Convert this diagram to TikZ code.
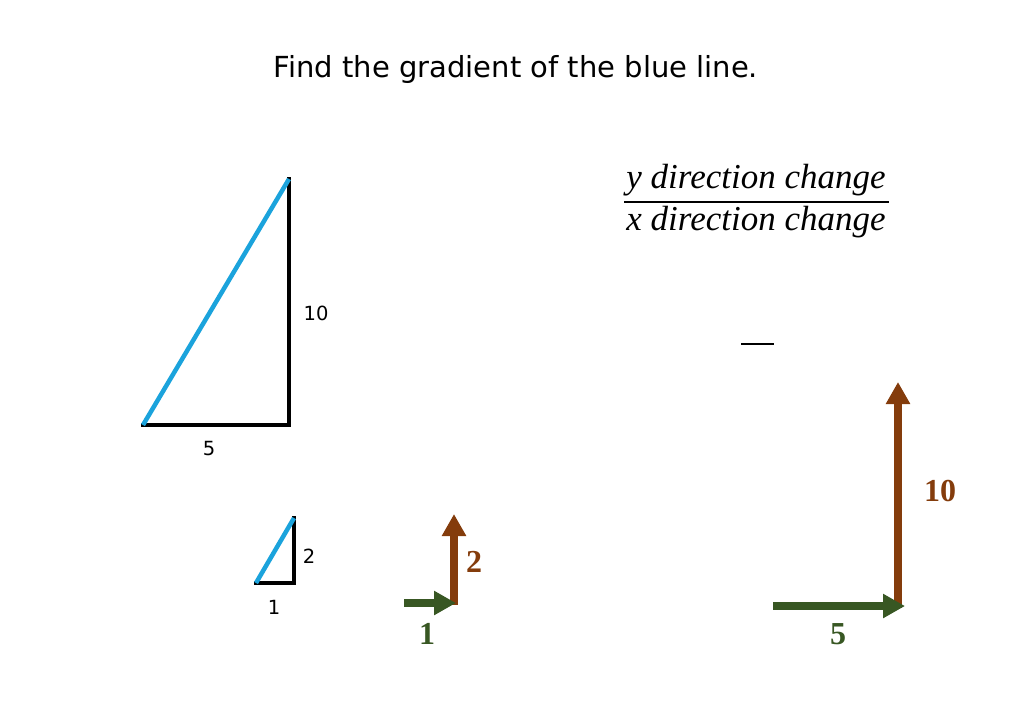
\documentclass[tikz,border=0pt]{standalone}
\usepackage{fontspec}
\setmainfont{Liberation Serif}
\newfontfamily\titlefont{DejaVu Sans}
\usetikzlibrary{arrows.meta}
\definecolor{lineblue}{RGB}{27,163,220}
\definecolor{arrowbrown}{RGB}{132,60,12}
\definecolor{arrowgreen}{RGB}{56,87,35}
\tikzset{
  side/.style={line width=4.5pt, line cap=rect},
  vec/.style={line width=8pt, -{Triangle[width=23pt,length=22pt]}},
  sidelabel/.style={font=\titlefont\fontsize{19.5}{22}\selectfont},
  veclabel/.style={font=\bfseries\fontsize{32}{34}\selectfont},
  fraclabel/.style={font=\itshape\fontsize{35}{38}\selectfont}
}
\begin{document}
\begin{tikzpicture}[x=1pt,y=-1pt]
\useasboundingbox (0,0) rectangle (1024,709);
\node[font=\titlefont\fontsize{29}{32}\selectfont] (T) at (516,69) {Find the gradient of the blue line.};

\node[fraclabel] (N) at (756,180) {y direction change};
\node[fraclabel] (M) at (756,222) {x direction change};
\coordinate (bl) at (624,202);
\coordinate (br) at (889,202);
\draw[line width=2pt] (bl) -- (br);
\draw[line width=2pt] (741,344) -- (774,344);

% big triangle
\coordinate (A) at (143,425);
\coordinate (B) at (289,425);
\coordinate (C) at (289,179);
\draw[side] (A) -- (B) -- (C);
\draw[lineblue, line width=4.5pt] (A) -- (C);
\node[sidelabel] (l10) at (316,313) {10};
\node[sidelabel] (l5) at (209,449) {5};

% small triangle
\coordinate (D) at (256,583);
\coordinate (E) at (294,583);
\coordinate (G) at (294,518);
\draw[side] (D) -- (E) -- (G);
\draw[lineblue, line width=4.5pt] (D) -- (G);
\node[sidelabel] (s2) at (309,556) {2};
\node[sidelabel] (s1) at (274,607) {1};

% small arrows
\coordinate (P) at (404,603);
\coordinate (Q) at (456,603);
\coordinate (R) at (454,605);
\coordinate (S) at (454,514);
\draw[vec, arrowbrown] (R) -- (S);
\draw[vec, arrowgreen] (P) -- (Q);
\node[veclabel, text=arrowbrown] (v2) at (474,562) {2};
\node[veclabel, text=arrowgreen] (v1) at (427,634) {1};

% big arrows
\coordinate (U) at (773,606);
\coordinate (V) at (905,606);
\coordinate (W) at (898,608);
\coordinate (X) at (898,382);
\draw[vec, arrowbrown] (W) -- (X);
\draw[vec, arrowgreen] (U) -- (V);
\node[veclabel, text=arrowbrown] (v10) at (940,491) {10};
\node[veclabel, text=arrowgreen] (v5) at (838,634) {5};
\end{tikzpicture}
\end{document}
